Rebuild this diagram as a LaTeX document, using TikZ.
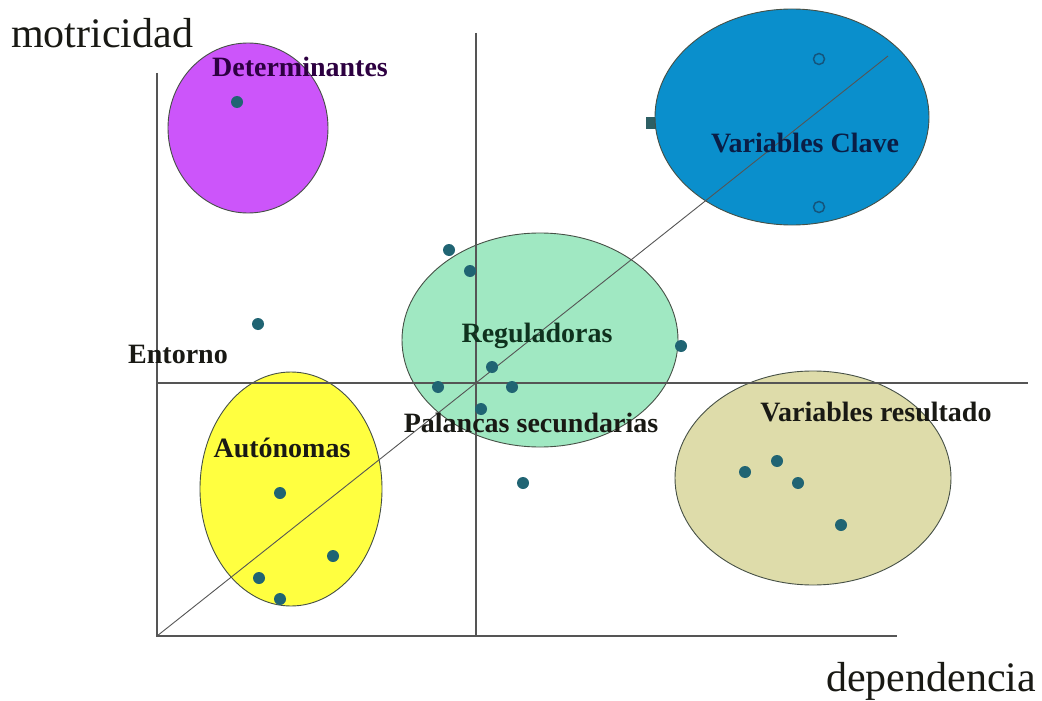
\documentclass[tikz,border=0pt]{standalone}
\usepackage{fontspec}
\setmainfont{Liberation Serif}
\usetikzlibrary{shapes.geometric}
\definecolor{cpurple}{RGB}{204,85,250}
\definecolor{cblue}{RGB}{10,143,204}
\definecolor{cgreen}{RGB}{160,232,194}
\definecolor{cyellow}{RGB}{255,255,64}
\definecolor{ckhaki}{RGB}{222,220,170}
\definecolor{cdot}{RGB}{32,100,115}
\definecolor{cring}{RGB}{20,85,125}
\definecolor{csq}{RGB}{45,95,100}
\definecolor{caxis}{RGB}{85,85,85}
\definecolor{cedge}{RGB}{70,80,70}
\definecolor{tpurple}{RGB}{45,0,65}
\definecolor{tnavy}{RGB}{10,30,70}
\definecolor{tgreen}{RGB}{15,50,30}
\definecolor{tdark}{RGB}{25,25,20}
\begin{document}
\begin{tikzpicture}[x=1pt,y=-1pt,
  region/.style={ellipse, draw=cedge, line width=0.9pt, inner sep=0pt},
  pt/.style={circle, fill=cdot, inner sep=0pt, minimum size=12pt},
  ring/.style={circle, draw=cring, line width=1.5pt, inner sep=0pt, minimum size=11pt},
  sq/.style={rectangle, fill=csq, inner sep=0pt, minimum size=12pt},
  axis/.style={draw=caxis, line width=1.1pt},
  lbl/.style={font=\bfseries\fontsize{28}{31}\selectfont, anchor=base, inner sep=0pt, text=tdark},
  big/.style={font=\fontsize{42}{46}\selectfont, anchor=base, inner sep=0pt, text=tdark}]
\fill[white] (0,0) rectangle (1042,701);
\useasboundingbox (0,0) rectangle (1042,701);

% square point partly hidden behind the blue region
\node[sq] (p4) at (652,123) {};

% regions
\node[region, fill=cpurple, minimum width=160pt, minimum height=170pt] (det) at (248,128) {};
\node[region, fill=cblue, minimum width=274pt, minimum height=216pt] (clave) at (792,117) {};
\node[region, fill=cgreen, minimum width=276pt, minimum height=214pt] (reg) at (540,340) {};
\node[region, fill=cyellow, minimum width=182pt, minimum height=234pt] (aut) at (291,489) {};
\node[region, fill=ckhaki, minimum width=276pt, minimum height=214pt] (res) at (813,478) {};

% axes
\coordinate (O) at (157,636);
\coordinate (Ytop) at (157,73);
\coordinate (Xend) at (897,636);
\coordinate (Mtop) at (476,33);
\coordinate (Mbot) at (476,636);
\coordinate (Hl) at (157,383);
\coordinate (Hr) at (1028,383);
\coordinate (Dend) at (888,56);
\draw[axis] (Ytop) -- (O) -- (Xend);
\draw[axis] (Mtop) -- (Mbot);
\draw[axis] (Hl) -- (Hr);
\draw[axis, line width=0.9pt] (O) -- (Dend);

% labels
\node[big] (lmot) at (102,48) {motricidad};
\node[big] (ldep) at (931,691) {dependencia};
\node[lbl, text=tpurple] (ldet) at (300,77) {Determinantes};
\node[lbl, text=tnavy] (lclave) at (805,152) {Variables Clave};
\node[lbl, text=tgreen] (lreg) at (537,342) {Reguladoras};
\node[lbl] (lpal) at (531,432) {Palancas secundarias};
\node[lbl] (lent) at (178,363) {Entorno};
\node[lbl] (laut) at (282,457) {Autónomas};
\node[lbl] (lres) at (876,421) {Variables resultado};

% points
\node[pt] (p1) at (237,102) {};
\node[ring, fill=cblue] (p2) at (819,59) {};
\node[ring, fill=cblue] (p3) at (819,207) {};
\node[pt] (p5) at (449,250) {};
\node[pt] (p6) at (470,271) {};
\node[pt] (p7) at (258,324) {};
\node[pt] (p8) at (681,346) {};
\node[pt] (p9) at (492,367) {};
\node[pt] (p10) at (438,387) {};
\node[pt] (p11) at (512,387) {};
\node[pt] (p12) at (481,409) {};
\node[pt] (p13) at (523,483) {};
\node[pt] (p14) at (280,493) {};
\node[pt] (p15) at (333,556) {};
\node[pt] (p16) at (259,578) {};
\node[pt] (p17) at (280,599) {};
\node[pt] (p18) at (745,472) {};
\node[pt] (p19) at (777,461) {};
\node[pt] (p20) at (798,483) {};
\node[pt] (p21) at (841,525) {};
\end{tikzpicture}
\end{document}
